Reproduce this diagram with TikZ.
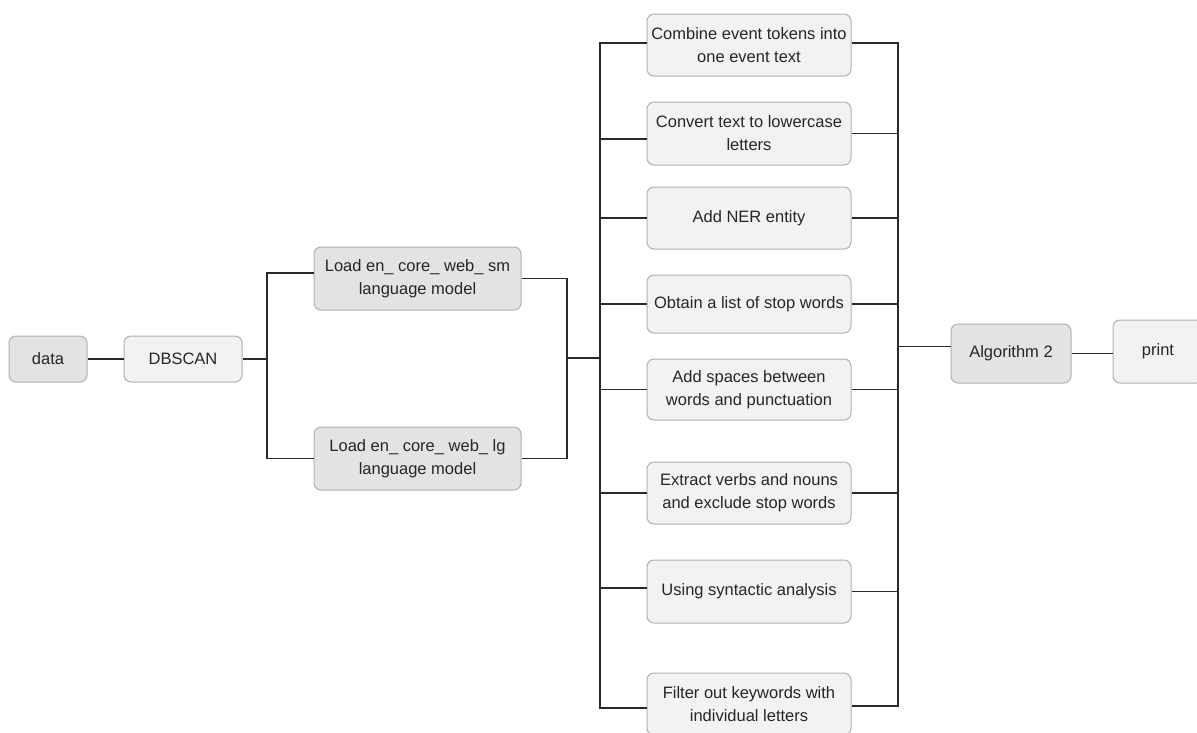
\documentclass[tikz,border=0pt]{standalone}
\usepackage{fontspec}
\setmainfont{Liberation Sans}
\definecolor{darkfill}{HTML}{E3E3E3}
\definecolor{lightfill}{HTML}{F2F2F2}
\definecolor{boxborder}{HTML}{B0B0B0}
\definecolor{wire}{HTML}{2A2A2A}
\tikzset{
  box/.style={draw=boxborder, rounded corners=7pt, line width=1pt, align=center,
    font=\fontsize{16.5}{23}\selectfont, inner sep=0pt, text=black!85},
  dark/.style={box, fill=darkfill},
  light/.style={box, fill=lightfill},
  wirestyle/.style={draw=wire, line width=1.3pt}
}
\begin{document}
\begin{tikzpicture}[x=1pt,y=-1pt]
\useasboundingbox (0,0) rectangle (1197,732);
% left part
\node[dark, minimum width=78, minimum height=46] (data) at (48,359) {data};
\node[light, minimum width=118, minimum height=46] (dbscan) at (183,359) {DBSCAN};
\node[dark, minimum width=207, minimum height=63] (sm) at (417.5,278.5) {Load en\_ core\_ web\_ sm\\language model};
\node[dark, minimum width=207, minimum height=63] (lg) at (417.5,458.5) {Load en\_ core\_ web\_ lg\\language model};
% right column
\node[light, minimum width=204, minimum height=62] (c1) at (749,45) {Combine event tokens into\\one event text};
\node[light, minimum width=204, minimum height=63] (c2) at (749,133.5) {Convert text to lowercase\\letters};
\node[light, minimum width=204, minimum height=62] (c3) at (749,218) {Add NER entity};
\node[light, minimum width=204, minimum height=58] (c4) at (749,304) {Obtain a list of stop words};
\node[light, minimum width=204, minimum height=61] (c5) at (749,389.5) {Add spaces between\\words and punctuation};
\node[light, minimum width=204, minimum height=62] (c6) at (749,493) {Extract verbs and nouns\\and exclude stop words};
\node[light, minimum width=204, minimum height=63] (c7) at (749,591.5) {Using syntactic analysis};
\node[light, minimum width=204, minimum height=62] (c8) at (749,704) {Filter out keywords with\\individual letters};
\node[dark, minimum width=120, minimum height=59] (alg) at (1011,353.5) {Algorithm 2};
\node[light, minimum width=90, minimum height=63] (print) at (1158,351.5) {print};
% bus coordinates
\coordinate (b1top) at (267,273);
\coordinate (b1bot) at (267,458.5);
\coordinate (b2) at (567,358);
\coordinate (mtop) at (600,43);
\coordinate (mbot) at (600,708);
\coordinate (rtop) at (898,43);
\coordinate (rbot) at (898,706);
% connectors
\draw[wirestyle] (data.east) -- (dbscan.west);
\draw[wirestyle] (dbscan.east) -- (dbscan.east -| b1top);
\draw[wirestyle] (sm.west |- b1top) -- (b1top) -- (b1bot) -- (lg.west);
\draw[wirestyle] (sm.east) -| (b2) |- (lg.east);
\draw[wirestyle] (b2) -- (b2 -| mtop);
\draw[wirestyle] (c1.west |- mtop) -- (mtop) -- (mbot) -- (c8.west |- mbot);
\draw[wirestyle] ([yshift=-5.5]c2.west) -- ([yshift=-5.5]c2.west -| mtop);
\draw[wirestyle] (c3.west) -- (c3.west -| mtop);
\draw[wirestyle] (c4.west) -- (c4.west -| mtop);
\draw[wirestyle] (c5.west) -- (c5.west -| mtop);
\draw[wirestyle] (c6.west) -- (c6.west -| mtop);
\draw[wirestyle] ([yshift=3.5]c7.west) -- ([yshift=3.5]c7.west -| mtop);
\draw[wirestyle] (c1.east |- rtop) -- (rtop) -- (rbot) -- (c8.east |- rbot);
\draw[wirestyle] (c2.east) -- (c2.east -| rtop);
\draw[wirestyle] (c3.east) -- (c3.east -| rtop);
\draw[wirestyle] (c4.east) -- (c4.east -| rtop);
\draw[wirestyle] (c5.east) -- (c5.east -| rtop);
\draw[wirestyle] (c6.east) -- (c6.east -| rtop);
\draw[wirestyle] (c7.east) -- (c7.east -| rtop);
\draw[wirestyle] ([yshift=7]alg.west -| rtop) -- ([yshift=7]alg.west);
\draw[wirestyle] (alg.east) -- (alg.east -| print.west);
\end{tikzpicture}
\end{document}
